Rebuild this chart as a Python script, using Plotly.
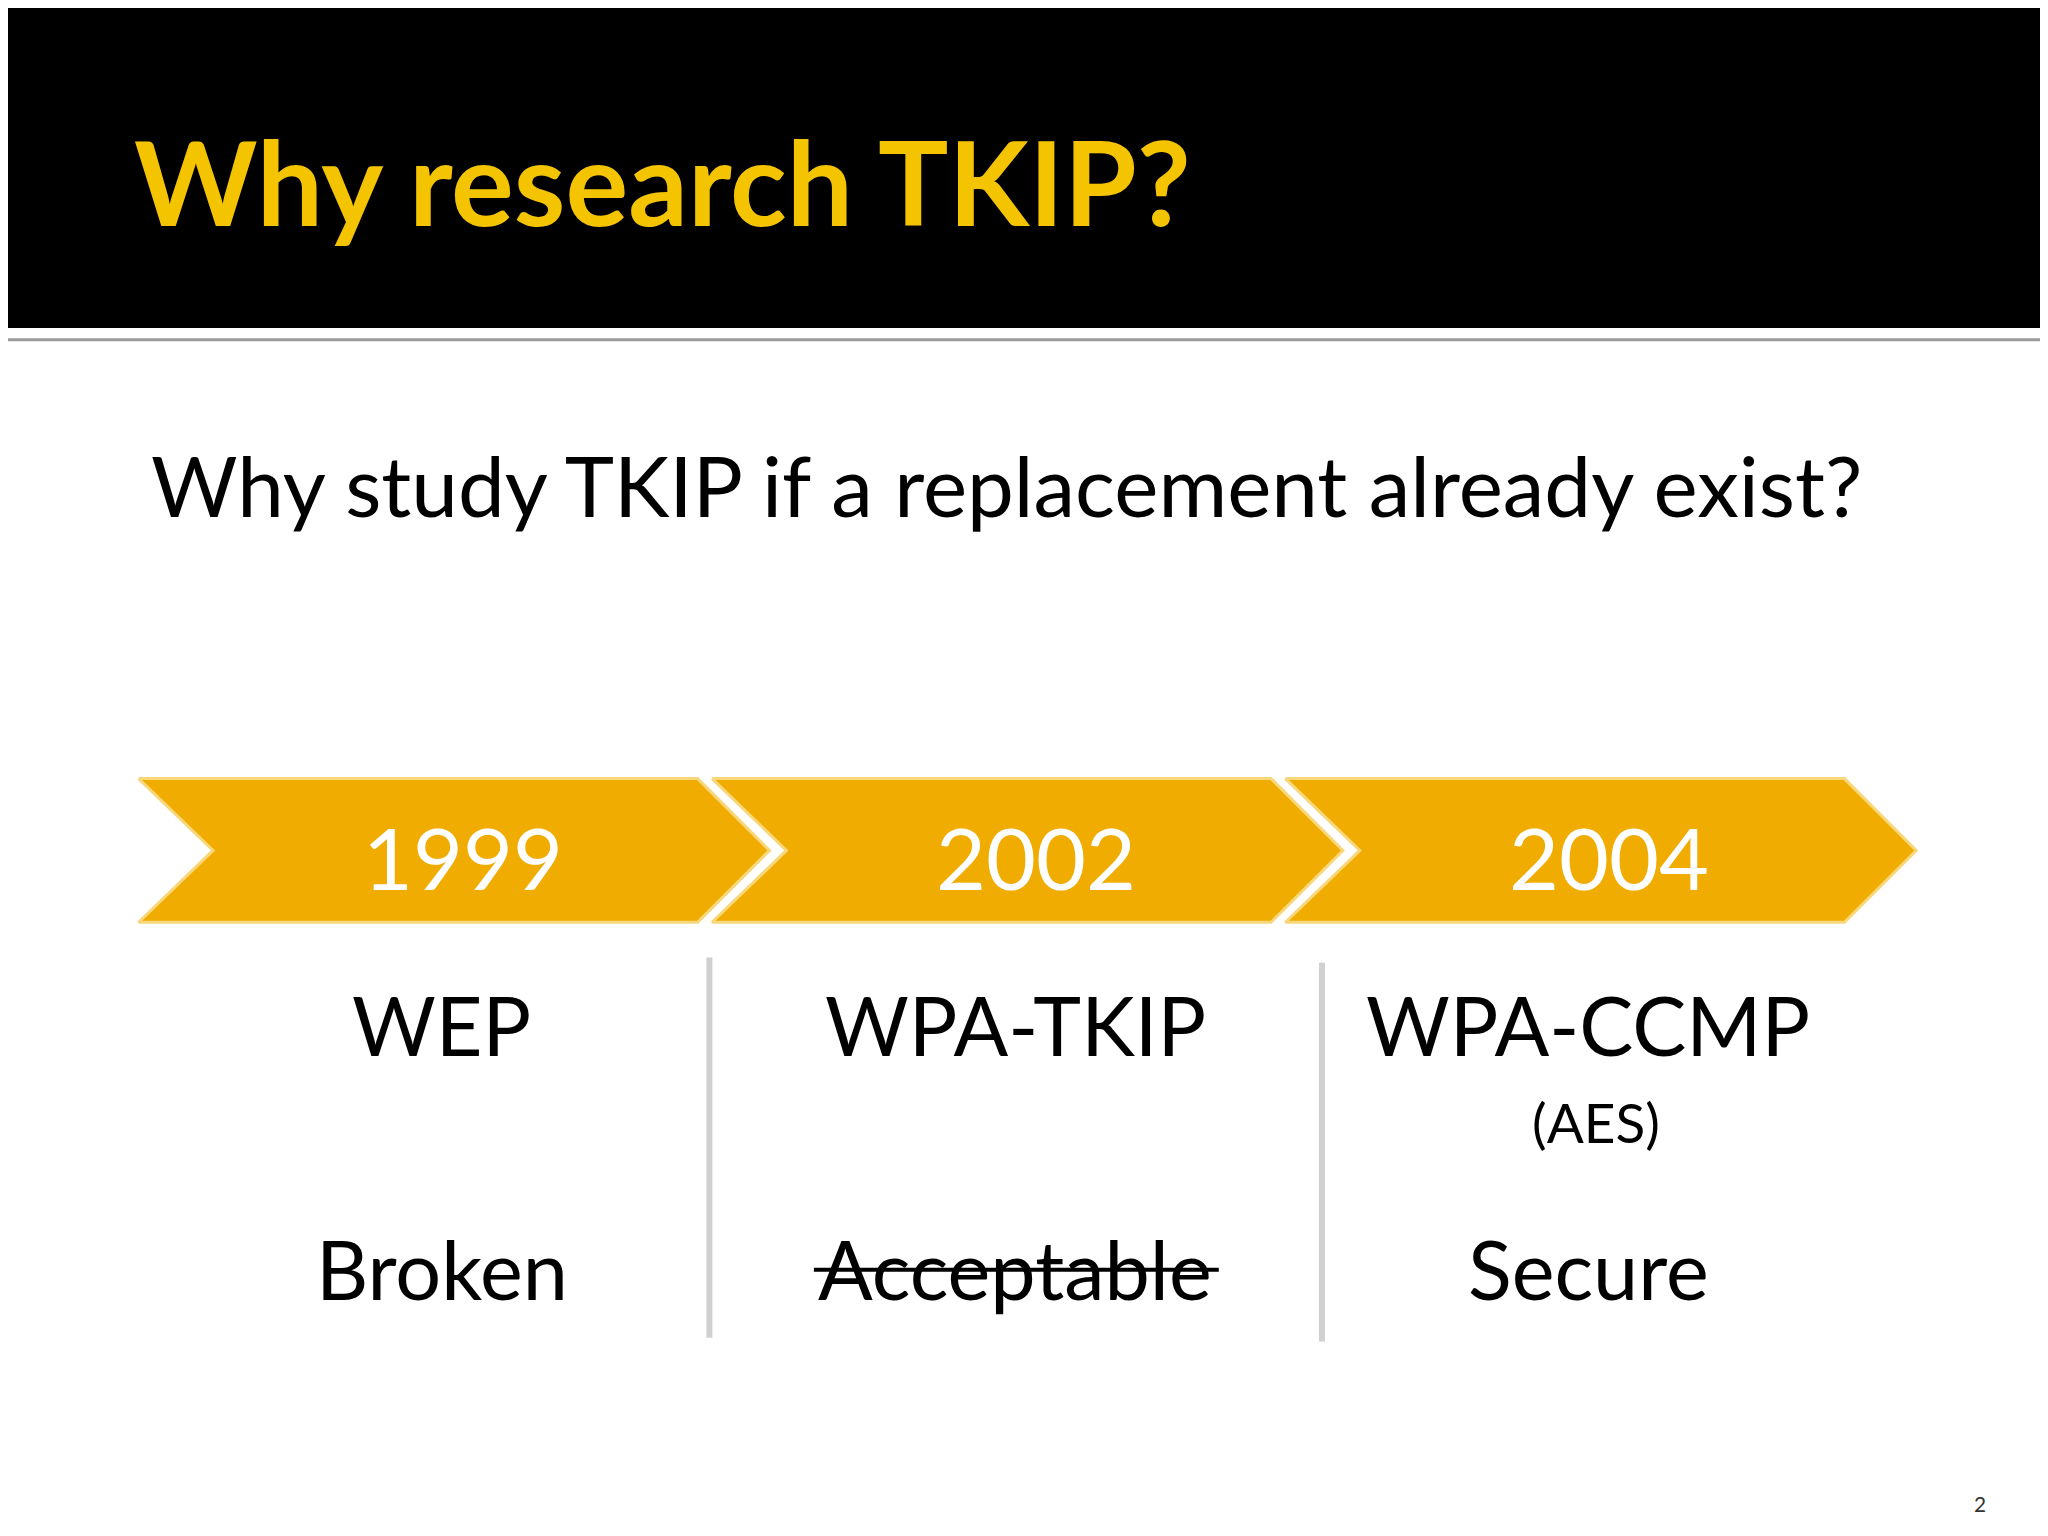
import plotly.graph_objects as go

# slide content
title = "Why research TKIP?"
question = "Why study TKIP if a replacement already exist?"
years = ["1999", "2002", "2004"]
protocols = ["WEP", "WPA-TKIP", "WPA-CCMP"]
notes = ["", "", "(AES)"]
status = ["Broken", "Acceptable", "Secure"]
struck = [False, True, False]

S = 2048 / 1568  # font scale from design units to pixels
GOLD = "#F0AC00"
FONT = "Lato"

fig = go.Figure()

# chevrons
for i, yr in enumerate(years):
    x0 = 100 + i * 439
    xs = [x0, x0 + 428, x0 + 483, x0 + 428, x0, x0 + 57, x0]
    ys = [590, 590, 645, 700, 700, 645, 590]
    fig.add_trace(go.Scatter(x=xs, y=ys, mode="lines", fill="toself",
                             fillcolor=GOLD, line=dict(color="#F7D77A", width=3),
                             hoverinfo="skip", showlegend=False))
    cx = x0 + 248
    fig.add_annotation(x=cx, y=650, text=yr, showarrow=False,
                       font=dict(family=FONT, size=66 * S, color="white"))
    fig.add_annotation(x=cx - 16, y=778, text=protocols[i], showarrow=False,
                       font=dict(family=FONT, size=62 * S, color="black"))
    if notes[i]:
        fig.add_annotation(x=cx - 10, y=853, text=notes[i], showarrow=False,
                           font=dict(family=FONT, size=42 * S, color="black"))
    fig.add_annotation(x=cx - 16, y=965, text=status[i], showarrow=False,
                       font=dict(family=FONT, size=62 * S, color="black"))
    if struck[i]:
        fig.add_shape(type="line", x0=cx - 170, x1=cx + 140, y0=966, y1=966,
                      line=dict(color="black", width=4))

# separators
for sx, sy0, sy1 in [(537, 727, 1018), (1006, 731, 1021)]:
    fig.add_shape(type="line", x0=sx, x1=sx, y0=sy0, y1=sy1,
                  line=dict(color="#D0D0D0", width=6))

# header bar
fig.add_shape(type="rect", x0=-10, x1=1580, y0=-10, y1=245, fillcolor="black",
              line_width=0, layer="below")
fig.add_shape(type="line", x0=0, x1=1568, y0=254, y1=254,
              line=dict(color="#9A9A9A", width=3))
fig.add_annotation(x=95, y=132, text=f"<b>{title}</b>", showarrow=False, xanchor="left",
                   font=dict(family=FONT, size=90 * S, color="#F5C400"))
fig.add_annotation(x=108, y=365, text=question, showarrow=False, xanchor="left",
                   font=dict(family=FONT, size=64 * S, color="black"))
fig.add_annotation(x=1510, y=1145, text="2", showarrow=False,
                   font=dict(family=FONT, size=16 * S, color="#333"))

fig.update_xaxes(range=[0, 1568], visible=False, fixedrange=True)
fig.update_yaxes(range=[1176, 0], visible=False, fixedrange=True)
fig.update_layout(width=2048, height=1536, margin=dict(l=0, r=0, t=0, b=0),
                  plot_bgcolor="white", paper_bgcolor="white")

fig.write_html("out.html")
